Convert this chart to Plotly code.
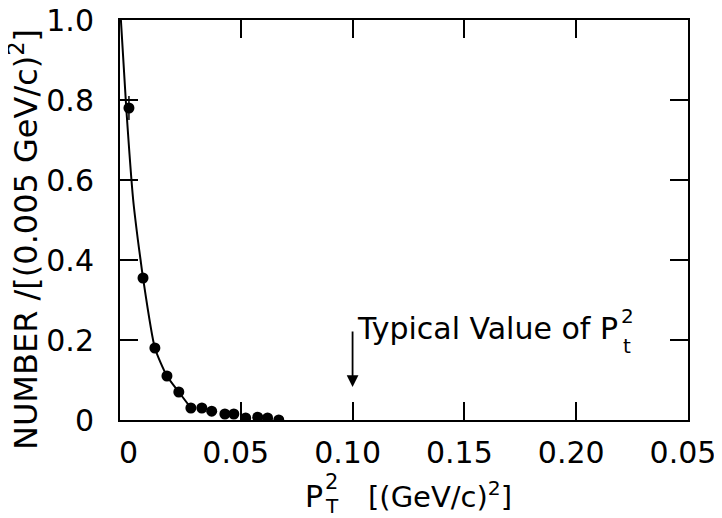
import plotly.graph_objects as go

# measured points (P_T^2, number per bin)
pt2 = [0.0000, 0.0063, 0.0116, 0.0170, 0.0223, 0.0277, 0.0326, 0.0370,
       0.0429, 0.0469, 0.0522, 0.0576, 0.0620, 0.0670]
number = [0.78, 0.355, 0.18, 0.11, 0.07, 0.03, 0.03, 0.022,
          0.015, 0.015, 0.005, 0.007, 0.005, 0.0]
number_err = [0.03, 0, 0, 0, 0, 0, 0, 0, 0, 0, 0, 0, 0, 0]

# hand-drawn smooth curve through the data
curve_x = [-0.0036, -0.0012, 0.0019, 0.0040, 0.0052, 0.0063, 0.0116, 0.0170, 0.0223, 0.0277]
curve_y = [1.0, 0.78, 0.55, 0.45, 0.40, 0.355, 0.18, 0.11, 0.07, 0.03]

x_tickvals = [0.05, 0.10, 0.15, 0.20, 0.25]
x_ticktext = ["0.05", "0.10", "0.15", "0.20", "0.05"]
x_zero_label = "0"
y_tickvals = [0, 0.2, 0.4, 0.6, 0.8, 1.0]
y_ticktext = ["0", "0.2", "0.4", "0.6", "0.8", "1.0"]

typical_value = 0.10

FONT = "DejaVu Sans"

# the page body has an 8px margin; plot area target in window pixels
OFF = 8
WX0, WY0, W, H = 120, 20, 568, 400
L, T = WX0 - OFF, WY0 - OFF


def paper(xp, yp):
    """window pixel -> paper coordinates"""
    return (xp - WX0) / W, (WY0 + H - yp) / H


fig = go.Figure()
fig.add_trace(go.Scatter(x=curve_x, y=curve_y, mode="lines",
                         line=dict(color="black", width=2, shape="spline", smoothing=0.6),
                         hoverinfo="skip", showlegend=False))
fig.add_trace(go.Scatter(x=pt2, y=number, mode="markers",
                         marker=dict(color="black", size=11),
                         error_y=dict(type="data", array=number_err, color="black",
                                      thickness=1.5, width=0),
                         showlegend=False))

axis_common = dict(showgrid=False, zeroline=False, showline=True, linecolor="black",
                   linewidth=2, mirror="ticks", ticks="inside", ticklen=18,
                   tickwidth=2, tickcolor="black", automargin=False,
                   ticklabeloverflow="allow",
                   tickfont=dict(family=FONT, size=30, color="black"))

fig.update_xaxes(range=[-0.004, 0.25], tickvals=x_tickvals, ticktext=x_ticktext,
                 ticklabelstandoff=5, ticklabelshift=-5, **axis_common)
fig.update_yaxes(range=[0, 1.0], tickvals=y_tickvals, ticktext=y_ticktext,
                 ticklabelstandoff=18, **axis_common)

# y axis title (placed lower than the plot centre, as in the original)
px_, py_ = paper(24, 240)
fig.add_annotation(x=px_, y=py_, xref="paper", yref="paper", xanchor="center",
                   yanchor="middle", textangle=-90, showarrow=False,
                   text="NUMBER /[(0.005 GeV/c)<sup>2</sup>]",
                   font=dict(family=FONT, size=32, color="black"))

# "0" label of the x axis (no tick mark there in the original)
fig.add_annotation(x=0, y=paper(0, 452)[1], xref="x", yref="paper", text=x_zero_label,
                   showarrow=False, xanchor="center", yanchor="middle",
                   font=dict(family=FONT, size=30, color="black"))

# arrow marking the typical value
fig.add_annotation(x=typical_value, y=0.0825, ax=typical_value, ay=0.225,
                   xref="x", yref="y", axref="x", ayref="y", text="",
                   showarrow=True, arrowhead=2, arrowsize=1.3, arrowwidth=1.8,
                   arrowcolor="black")

px_, py_ = paper(355, 328)
fig.add_annotation(x=px_, y=py_, xref="paper", yref="paper", xanchor="left", yanchor="middle",
                   text="Typical Value of P", showarrow=False,
                   font=dict(family=FONT, size=30, color="black"))
px_, py_ = paper(619, 316)
fig.add_annotation(x=px_, y=py_, xref="paper", yref="paper", xanchor="left", yanchor="middle",
                   text="2", showarrow=False, font=dict(family=FONT, size=20, color="black"))
px_, py_ = paper(621, 346)
fig.add_annotation(x=px_, y=py_, xref="paper", yref="paper", xanchor="left", yanchor="middle",
                   text="t", showarrow=False, font=dict(family=FONT, size=20, color="black"))

# x axis title built from pieces so that the 2 and T stack
px_, py_ = paper(303, 497)
fig.add_annotation(x=px_, y=py_, xref="paper", yref="paper", xanchor="left", yanchor="middle",
                   text="P", showarrow=False, font=dict(family=FONT, size=30, color="black"))
px_, py_ = paper(323, 482)
fig.add_annotation(x=px_, y=py_, xref="paper", yref="paper", xanchor="left", yanchor="middle",
                   text="2", showarrow=False, font=dict(family=FONT, size=21, color="black"))
px_, py_ = paper(323, 506)
fig.add_annotation(x=px_, y=py_, xref="paper", yref="paper", xanchor="left", yanchor="middle",
                   text="T", showarrow=False, font=dict(family=FONT, size=20, color="black"))
px_, py_ = paper(366, 495)
fig.add_annotation(x=px_, y=py_, xref="paper", yref="paper", xanchor="left", yanchor="middle",
                   text="[(GeV/c)<sup>2</sup>]", showarrow=False,
                   font=dict(family=FONT, size=29, color="black"))

fig.update_layout(width=722, height=518, margin=dict(l=L, r=722 - L - W, t=T, b=518 - T - H),
                  paper_bgcolor="white", plot_bgcolor="white",
                  font=dict(family=FONT, color="black"))

fig.write_html("out.html")
